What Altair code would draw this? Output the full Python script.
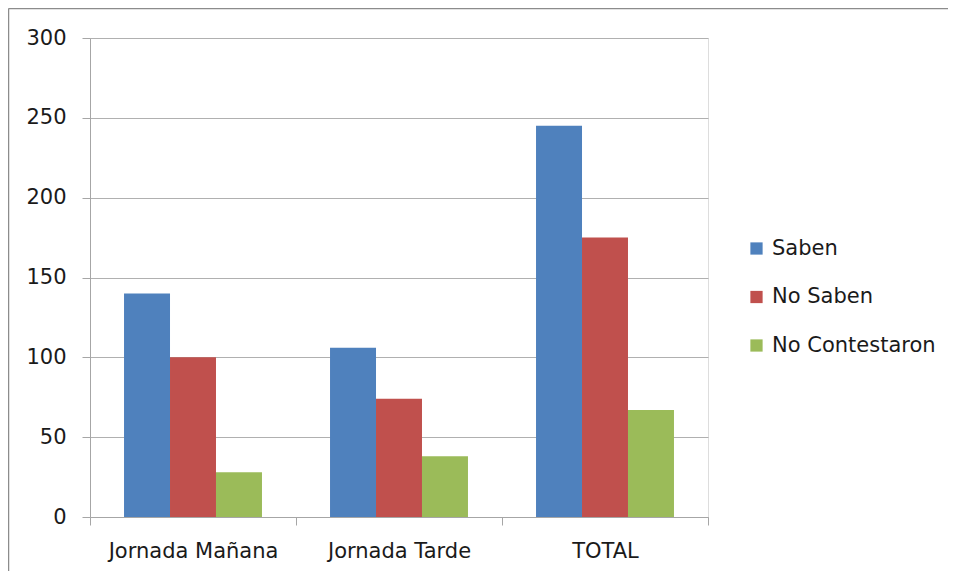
import altair as alt
import pandas as pd

categories = ["Jornada Mañana", "Jornada Tarde", "TOTAL"]
series = ["Saben", "No Saben", "No Contestaron"]
saben = [140, 106, 245]
no_saben = [100, 74, 175]
no_contestaron = [28, 38, 67]
colors = ["#4F81BD", "#C0504D", "#9BBB59"]
y_ticks = [0, 50, 100, 150, 200, 250, 300]

rows = []
for s, vals in zip(series, [saben, no_saben, no_contestaron]):
    for c, v in zip(categories, vals):
        rows.append({"categoria": c, "serie": s, "valor": v})
df = pd.DataFrame(rows)

FONT = "DejaVu Sans"
FS = 21
TXT = "#1a1a1a"
AX = "#a6a6a6"

bars = alt.Chart(df).mark_bar().encode(
    x=alt.X("categoria:N", sort=categories, title=None,
            scale=alt.Scale(paddingInner=0, paddingOuter=0),
            axis=alt.Axis(labelAngle=0, labelFontSize=FS, labelFont=FONT, labelColor=TXT,
                          tickBand="extent", tickSize=8, tickColor=AX, domainColor=AX,
                          labelPadding=15, grid=False)),
    xOffset=alt.XOffset("serie:N", sort=series,
                        scale=alt.Scale(paddingInner=0, paddingOuter=0.74)),
    y=alt.Y("valor:Q", title=None,
            scale=alt.Scale(domain=[0, 300], nice=False),
            axis=alt.Axis(values=y_ticks, labelFontSize=FS, labelFont=FONT, labelColor=TXT,
                          tickSize=8, tickColor=AX, domainColor=AX, labelPadding=16,
                          gridColor="#b0b0b0", gridWidth=1.2)),
    color=alt.Color("serie:N", sort=series,
                    scale=alt.Scale(domain=series, range=colors),
                    legend=alt.Legend(title=None, orient="none", legendX=656, legendY=200,
                                      symbolType="square", symbolSize=150, symbolStrokeWidth=0,
                                      labelFontSize=FS, labelFont=FONT, labelColor=TXT,
                                      labelLimit=0, rowPadding=26.5, labelOffset=5)),
)

border_top = alt.Chart(alt.Data(values=[{}])).mark_rule(
    stroke="#8c8c8c", strokeWidth=1.5
).encode(
    x=alt.value(-81.5), x2=alt.value(858), y=alt.value(-29.5)
)
border_left = alt.Chart(alt.Data(values=[{}])).mark_rule(
    stroke="#8c8c8c", strokeWidth=1.5
).encode(
    x=alt.value(-81.5), y=alt.value(-29.5), y2=alt.value(533)
)

chart = alt.layer(border_top, border_left, bars).properties(
    width=618, height=479,
    padding={"left": 82, "top": 30, "right": 241, "bottom": 54},
    autosize=alt.AutoSizeParams(type="none"),
).configure_view(stroke=None).configure(background="white")

chart.save("out.html", embed_options={"renderer": "svg", "actions": False})
